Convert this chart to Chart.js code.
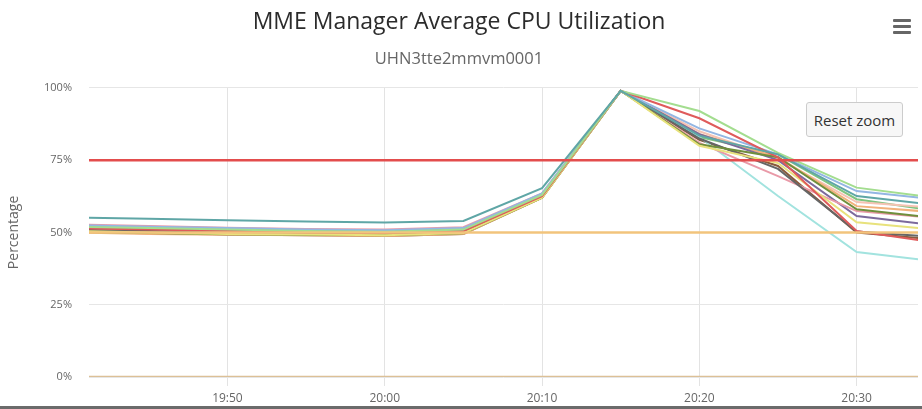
<!DOCTYPE html>
<html>
<head>
<meta charset="utf-8">
<script src="https://cdn.jsdelivr.net/npm/chart.js@4.4.1/dist/chart.umd.min.js"></script>
<style>
    html, body { margin: 0; padding: 0; background: #fff; }
    #wrap { position: relative; width: 922px; height: 409px; overflow: hidden; }
    #menu { position: absolute; left: 893px; top: 19px; width: 18px; }
    #menu span { display: block; height: 3px; background: #666; margin-bottom: 3px; border-radius: 1px; }
    #reset-zoom {
        position: absolute; left: 806px; top: 102px; width: 97px; height: 35px;
        background: #f7f7f7; border: 1px solid #cccccc; border-radius: 3px;
        font: 15px "Open Sans", sans-serif; color: #333; padding: 0; cursor: pointer;
    }
    #bottom-edge { position: absolute; left: 0; bottom: 0; width: 922px; height: 3px; background: #6b6b6b; }
</style>
</head>
<body>
<div id="wrap">
    <canvas id="cpu-chart" width="922" height="409"></canvas>
    <div id="menu"><span></span><span></span><span></span></div>
    <button id="reset-zoom">Reset zoom</button>
    <div id="bottom-edge"></div>
</div>
<script>
// sample times (5 min steps)
const times = ['19:40', '19:45', '19:50', '19:55', '20:00', '20:05', '20:10', '20:15', '20:20', '20:25', '20:30', '20:35'];
const xTickLabels = ['19:50', '20:00', '20:10', '20:20', '20:30'];
const yTicks = [0, 25, 50, 75, 100];

// visible (zoomed) window
const viewFrom = '19:41.2';
const viewTo = '20:33.9';

// thresholds
const criticalLevel = [75, 75];
const warningLevel = [50, 50];
const baseLevel = [0, 0];

// CPU series, one per VM instance
const vm01 = [55.2, 54.7, 54.2, 53.8, 53.4, 54.0, 65.3, 99, 83.5, 77.0, 62.6, 59.5];
const vm02 = [52.0, 51.5, 51.0, 50.5, 50.2, 51.0, 63.0, 99, 92.0, 77.5, 65.5, 62.0];
const vm03 = [51.5, 51.0, 50.5, 50.0, 49.8, 50.5, 62.5, 99, 89.5, 76.0, 50.5, 46.5];
const vm04 = [52.5, 52.0, 51.5, 51.0, 50.8, 51.5, 63.5, 99, 86.0, 77.0, 64.3, 61.5];
const vm05 = [50.5, 50.0, 49.5, 49.3, 49.0, 49.8, 62.0, 99, 80.0, 74.0, 53.5, 51.0];
const vm06 = [50.3, 49.8, 49.4, 49.2, 49.0, 49.7, 62.0, 99, 80.5, 76.0, 58.0, 55.0];
const vm07 = [51.0, 50.5, 50.0, 49.8, 49.6, 50.3, 62.8, 99, 82.5, 72.0, 50.3, 48.5];
const vm08 = [52.8, 52.2, 51.6, 51.2, 51.0, 51.8, 63.5, 99, 81.0, 69.5, 57.4, 55.0];
const vm09 = [52.0, 51.5, 51.0, 50.6, 50.4, 51.2, 63.2, 99, 84.0, 75.0, 55.7, 52.5];
const vm10 = [51.0, 50.6, 50.2, 50.0, 49.8, 50.5, 62.8, 99, 83.0, 62.6, 43.2, 40.0];
const vm11 = [50.0, 49.5, 49.2, 49.0, 48.8, 49.5, 62.0, 99, 84.0, 76.0, 59.1, 57.0];
const vm12 = [51.2, 50.7, 50.3, 50.0, 49.8, 50.6, 62.8, 99, 85.0, 75.5, 60.5, 58.5];
const vm13 = [50.2, 49.7, 49.3, 49.0, 48.8, 49.5, 62.0, 99, 82.0, 73.0, 50.0, 47.5];
const vm14 = [51.5, 51.0, 50.6, 50.2, 50.0, 50.8, 63.0, 99, 83.0, 77.0, 61.5, 57.5];

const seriesList = [
    { name: 'vm01', data: vm01, color: '#5fa6a6' },
    { name: 'vm02', data: vm02, color: '#a3dd8f' },
    { name: 'vm03', data: vm03, color: '#df5b5b' },
    { name: 'vm04', data: vm04, color: '#93b6e3' },
    { name: 'vm05', data: vm05, color: '#e8e27c' },
    { name: 'vm06', data: vm06, color: '#6f8f3c' },
    { name: 'vm07', data: vm07, color: '#666666' },
    { name: 'vm08', data: vm08, color: '#e99aa8' },
    { name: 'vm09', data: vm09, color: '#7c6a9c' },
    { name: 'vm10', data: vm10, color: '#a2e3df' },
    { name: 'vm11', data: vm11, color: '#f2b27c' },
    { name: 'vm12', data: vm12, color: '#f5c3b3' },
    { name: 'vm13', data: vm13, color: '#8a5a3c' },
    { name: 'vm14', data: vm14, color: '#7fc47f' }
];

const toMin = t => {
    const [h, m] = t.split(':');
    return Number(h) * 60 + Number(m);
};
const fmt = v => {
    const h = Math.floor(v / 60), m = Math.round(v % 60);
    return h + ':' + String(m).padStart(2, '0');
};

const xMin = toMin(viewFrom);
const xMax = toMin(viewTo);
const spanX = [toMin(times[0]), toMin(times[times.length - 1])];

const thresholdSet = (label, vals, color) => ({
    label,
    data: vals.map((y, i) => ({ x: spanX[i], y })),
    borderColor: color,
    borderWidth: 2.5,
    pointRadius: 0
});

const datasets = [
    thresholdSet('Critical', criticalLevel, '#e34d4d'),
    thresholdSet('Warning', warningLevel, '#f2c47c'),
    thresholdSet('Base', baseLevel, '#dcc096'),
    ...seriesList.map(s => ({
        label: s.name,
        data: s.data.map((y, i) => ({ x: toMin(times[i]), y })),
        borderColor: s.color,
        borderWidth: 2,
        pointRadius: 0,
        tension: 0
    }))
];

const font = '"Open Sans", Lato, sans-serif';

new Chart(document.getElementById('cpu-chart'), {
    type: 'line',
    data: { datasets },
    options: {
        responsive: false,
        animation: false,
        layout: { padding: { left: 0, right: 4, top: 0, bottom: 0 } },
        plugins: {
            legend: { display: false },
            tooltip: { enabled: false },
            title: {
                display: true,
                text: 'MME Manager Average CPU Utilization',
                color: '#2b2b2b',
                font: { family: font, size: 23, weight: 'normal' },
                padding: { top: 9, bottom: 12.5 }
            },
            subtitle: {
                display: true,
                text: 'UHN3tte2mmvm0001',
                color: '#666666',
                font: { family: font, size: 16.5 },
                padding: { top: 0, bottom: 19 }
            }
        },
        scales: {
            x: {
                type: 'linear',
                min: xMin,
                max: xMax,
                afterBuildTicks: s => { s.ticks = xTickLabels.map(t => ({ value: toMin(t) })); },
                afterFit: s => { s.height = 32; },
                border: { display: false },
                grid: { color: '#e3e3e3', lineWidth: 1, tickLength: 9 },
                ticks: {
                    callback: v => fmt(v),
                    color: '#666666',
                    font: { family: font, size: 12 },
                    padding: 5,
                    maxRotation: 0
                }
            },
            y: {
                min: 0,
                max: 100,
                afterBuildTicks: s => { s.ticks = yTicks.map(v => ({ value: v })); },
                afterFit: s => { s.width = 89; },
                border: { display: false },
                grid: { color: '#e6e6e6', lineWidth: 1, drawTicks: false },
                title: {
                    display: true,
                    text: 'Percentage',
                    color: '#666666',
                    font: { family: font, size: 14 },
                    padding: { top: 6, bottom: 0 }
                },
                ticks: {
                    callback: v => v + '%',
                    color: '#666666',
                    font: { family: font, size: 11 },
                    padding: 17
                }
            }
        }
    }
});
</script>
</body>
</html>
